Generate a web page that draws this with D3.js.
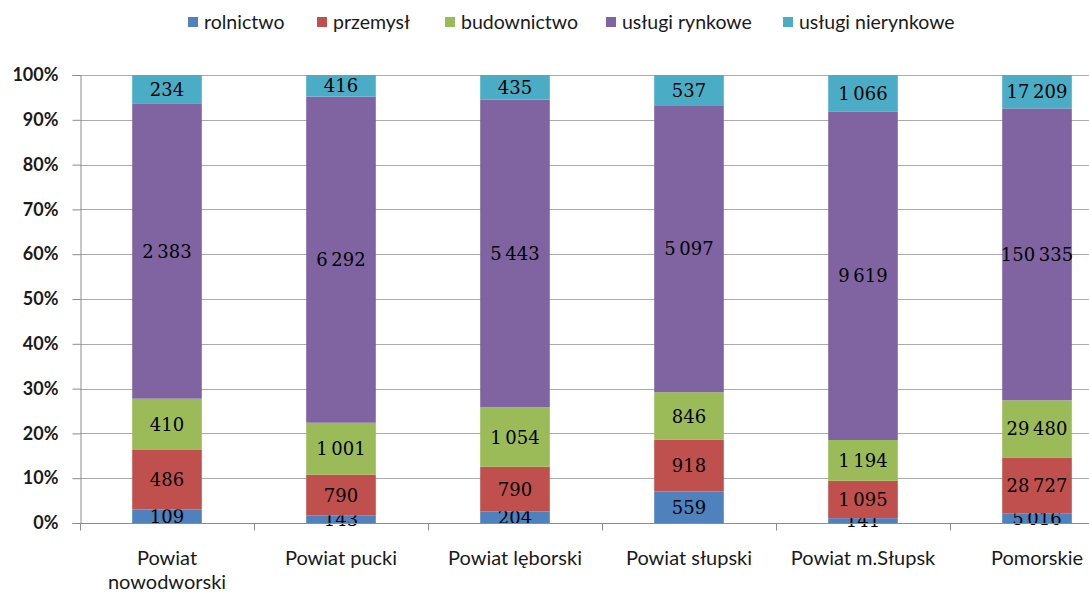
<!DOCTYPE html>
<html>
<head>
<meta charset="utf-8">
<script src="https://cdn.jsdelivr.net/npm/d3@7"></script>
<style>
  html, body { margin: 0; padding: 0; background: #fff; overflow: hidden; }
  svg { display: block; }
</style>
</head>
<body>
<svg id="chart" width="1089" height="592"></svg>
<script>
// Districts shown along the x axis
const categories = [
  ["Powiat", "nowodworski"],
  ["Powiat pucki"],
  ["Powiat lęborski"],
  ["Powiat słupski"],
  ["Powiat m.Słupsk"],
  ["Pomorskie"]
];

// Sector names (legend order, stacked bottom to top)
const sectors = ["rolnictwo", "przemysł", "budownictwo", "usługi rynkowe", "usługi nierynkowe"];
const sectorColors = ["#4F81BD", "#C0504D", "#9BBB59", "#8064A2", "#4BACC6"];

// Values per sector, one entry per district
const rolnictwo        = [109, 143, 204, 559, 141, 5016];
const przemysl         = [486, 790, 790, 918, 1095, 28727];
const budownictwo      = [410, 1001, 1054, 846, 1194, 29480];
const uslugiRynkowe    = [2383, 6292, 5443, 5097, 9619, 150335];
const uslugiNierynkowe = [234, 416, 435, 537, 1066, 17209];

// Percentage axis ticks
const yTicks = [0, 0.1, 0.2, 0.3, 0.4, 0.5, 0.6, 0.7, 0.8, 0.9, 1.0];

const seriesValues = [rolnictwo, przemysl, budownictwo, uslugiRynkowe, uslugiNierynkowe];
const catKeys = categories.map(c => c.join(" "));

// Rows for d3.stack, normalised to shares of each district's total
const rows = catKeys.map((key, i) => {
  const row = { key };
  sectors.forEach((s, j) => { row[s] = seriesValues[j][i]; });
  return row;
});

const svg = d3.select("#chart");
const plot = { left: 80, top: 75, bottom: 523, step: 174 };
plot.right = plot.left + plot.step * catKeys.length;

const x = d3.scaleBand()
  .domain(catKeys)
  .range([plot.left, plot.right])
  .paddingInner(0.6)
  .paddingOuter(0.3);

const y = d3.scaleLinear().domain([0, 1]).range([plot.bottom, plot.top]);

const stack = d3.stack().keys(sectors).offset(d3.stackOffsetExpand);
const layers = stack(rows);

const fmt = d3.formatLocale({ decimal: ",", thousands: "\u2009", grouping: [3], currency: ["", ""] }).format(",d");

const sansFont = "Lato, 'Open Sans', sans-serif";

// Horizontal gridlines
svg.append("g")
  .selectAll("line")
  .data(yTicks)
  .join("line")
  .attr("x1", plot.left)
  .attr("x2", plot.right)
  .attr("y1", d => Math.round(y(d)) + 0.5)
  .attr("y2", d => Math.round(y(d)) + 0.5)
  .attr("stroke", "#ababab")
  .attr("stroke-width", 1);

// Y axis
const yAxis = svg.append("g")
  .attr("transform", `translate(${plot.left + 0.5},0)`)
  .call(d3.axisLeft(y).tickValues(yTicks).tickFormat(d3.format(".0%")).tickSize(8).tickPadding(14));
yAxis.select(".domain").attr("stroke", "#8c8c8c");
yAxis.selectAll(".tick line").attr("stroke", "#8c8c8c");
yAxis.selectAll(".tick text")
  .attr("font-family", sansFont)
  .attr("font-weight", "bold")
  .attr("font-size", "18px")
  .attr("fill", "#1a1a1a");

// Stacked bars
const layerG = svg.append("g")
  .selectAll("g")
  .data(layers)
  .join("g")
  .attr("fill", (d, i) => sectorColors[i]);

layerG.selectAll("rect")
  .data(d => d)
  .join("rect")
  .attr("x", d => x(d.data.key))
  .attr("width", x.bandwidth())
  .attr("y", d => y(d[1]))
  .attr("height", d => y(d[0]) - y(d[1]));

// X axis with tick marks between categories
const xAxisG = svg.append("g").attr("transform", `translate(0,${plot.bottom + 0.5})`);
xAxisG.append("line")
  .attr("x1", plot.left).attr("x2", plot.right)
  .attr("stroke", "#8c8c8c");
xAxisG.selectAll("line.sep")
  .data(d3.range(catKeys.length + 1))
  .join("line")
  .attr("class", "sep")
  .attr("x1", i => Math.round(plot.left + i * x.step()) + 0.5)
  .attr("x2", i => Math.round(plot.left + i * x.step()) + 0.5)
  .attr("y1", 0).attr("y2", 7)
  .attr("stroke", "#8c8c8c");

// Category labels
const catText = svg.append("g")
  .selectAll("text")
  .data(categories)
  .join("text")
  .attr("x", (d, i) => x(catKeys[i]) + x.bandwidth() / 2)
  .attr("y", 565)
  .attr("text-anchor", "middle")
  .attr("font-family", sansFont)
  .attr("font-size", "20px")
  .attr("fill", "#1a1a1a");
catText.selectAll("tspan")
  .data(d => d)
  .join("tspan")
  .attr("x", function () { return d3.select(this.parentNode).attr("x"); })
  .attr("dy", (d, i) => i === 0 ? 0 : 24)
  .text(d => d);

// Value labels inside each segment
layerG.selectAll("text")
  .data((d, i) => d.map((p, k) => ({ p, v: seriesValues[i][k] })))
  .join("text")
  .attr("x", d => x(d.p.data.key) + x.bandwidth() / 2)
  .attr("y", d => (y(d.p[0]) + y(d.p[1])) / 2)
  .attr("dy", "0.36em")
  .attr("text-anchor", "middle")
  .attr("font-family", "'DejaVu Serif', serif")
  .attr("font-size", "18px")
  .attr("fill", "#000")
  .text(d => fmt(d.v));

// Legend
const legendX = [188, 317, 445, 606, 783];
const legend = svg.append("g")
  .selectAll("g")
  .data(sectors)
  .join("g")
  .attr("transform", (d, i) => `translate(${legendX[i]},22)`);
legend.append("rect")
  .attr("x", 0).attr("y", -5)
  .attr("width", 10).attr("height", 10)
  .attr("fill", (d, i) => sectorColors[i]);
legend.append("text")
  .attr("x", 16)
  .attr("dy", "0.35em")
  .attr("font-family", sansFont)
  .attr("font-size", "19.5px")
  .attr("fill", "#1a1a1a")
  .text(d => d);
</script>
</body>
</html>
